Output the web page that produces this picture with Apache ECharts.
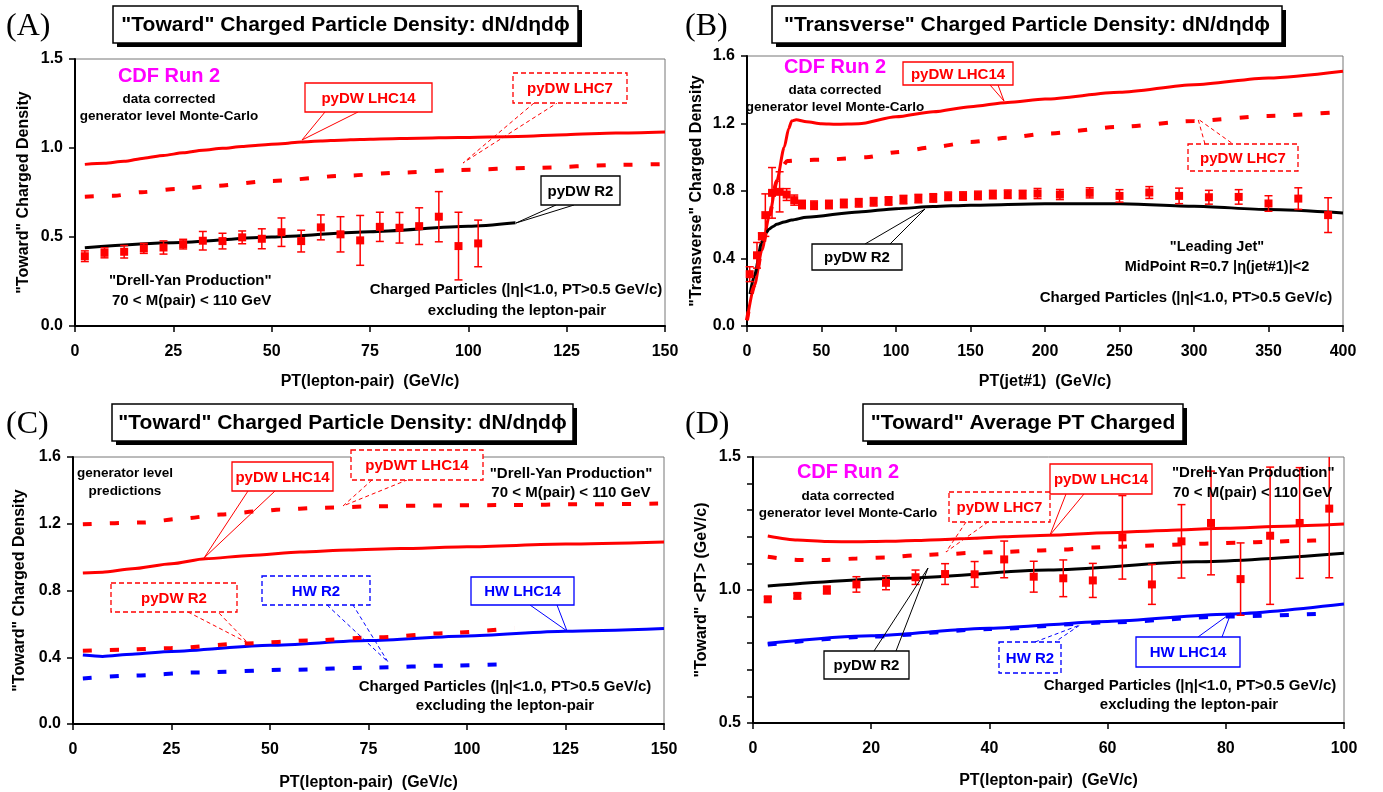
<!DOCTYPE html>
<html>
<head>
<meta charset="utf-8">
<script src="https://cdn.jsdelivr.net/npm/echarts/dist/echarts.min.js"></script>
<style>html,body{margin:0;background:#fff}#chart{width:1383px;height:792px}</style>
</head>
<body>
<div id="chart"></div>
<script>
// ---- (A) "Toward" density, Drell-Yan ----
const ptA = [2.5, 7.5, 12.5, 17.5, 22.5, 27.5, 32.5, 37.5, 42.5, 47.5, 52.5, 57.5, 62.5, 67.5, 72.5, 77.5, 82.5, 87.5, 92.5, 97.5, 102.5]
const densA = [0.392, 0.411, 0.417, 0.436, 0.441, 0.46, 0.479, 0.477, 0.498, 0.49, 0.527, 0.477, 0.554, 0.515, 0.481, 0.557, 0.552, 0.561, 0.614, 0.449, 0.464]
const errA = [0.03, 0.028, 0.035, 0.028, 0.037, 0.027, 0.052, 0.044, 0.036, 0.056, 0.08, 0.061, 0.07, 0.099, 0.14, 0.082, 0.086, 0.103, 0.141, 0.19, 0.131]
const aLhc14X = [2.5, 7.5, 12.5, 17.5, 22.5, 27.5, 32.5, 37.5, 42.5, 47.5, 52.5, 57.5, 62.5, 67.5, 72.5, 77.5, 87.5, 97.5, 112.5, 125, 137.5, 150]
const aLhc14Y = [0.908, 0.914, 0.925, 0.943, 0.958, 0.973, 0.988, 0.998, 1.008, 1.017, 1.024, 1.034, 1.039, 1.044, 1.048, 1.051, 1.055, 1.059, 1.065, 1.075, 1.084, 1.09]
const aLhc7X = [2.5, 10, 17, 26, 35, 50, 69, 83, 97.5, 117, 138, 150]
const aLhc7Y = [0.726, 0.732, 0.752, 0.77, 0.787, 0.815, 0.845, 0.862, 0.877, 0.889, 0.905, 0.91]
const aR2X = [2.5, 25, 50, 75, 100, 112]
const aR2Y = [0.44, 0.468, 0.5, 0.53, 0.56, 0.58]

// ---- (B) "Transverse" density, leading jet ----
const ptB = [1.8, 6.7, 10, 12.3, 16.8, 21.9, 26.6, 31.7, 36.9, 45, 55, 65, 75, 85, 95, 105, 115, 125, 135, 145, 155, 165, 175, 185, 195, 210, 230, 250, 270, 290, 310, 330, 350, 370, 390]
const densB = [0.307, 0.419, 0.532, 0.657, 0.789, 0.795, 0.779, 0.746, 0.72, 0.716, 0.72, 0.726, 0.73, 0.736, 0.741, 0.749, 0.755, 0.759, 0.769, 0.77, 0.774, 0.779, 0.781, 0.779, 0.785, 0.779, 0.789, 0.771, 0.791, 0.771, 0.763, 0.765, 0.726, 0.755, 0.657]
const errB = [0.044, 0.076, 0.02, 0.126, 0.15, 0.119, 0.035, 0.03, 0.025, 0.025, 0.025, 0.025, 0.025, 0.025, 0.025, 0.025, 0.025, 0.025, 0.025, 0.025, 0.025, 0.025, 0.025, 0.025, 0.03, 0.03, 0.03, 0.037, 0.035, 0.046, 0.041, 0.043, 0.046, 0.064, 0.103]
const bLhc14X = [0, 5, 10, 15, 20, 25, 28, 30, 33, 40, 50, 60, 75, 100, 125, 150, 175, 200, 250, 300, 350, 400]
const bLhc14Y = [0.034, 0.24, 0.45, 0.655, 0.86, 1.06, 1.17, 1.215, 1.222, 1.21, 1.198, 1.195, 1.198, 1.24, 1.27, 1.3, 1.325, 1.345, 1.385, 1.43, 1.47, 1.51]
const bLhc7X = [0, 5, 10, 15, 20, 24, 27, 35, 55, 80, 100, 125, 150, 175, 200, 250, 300, 350, 400]
const bLhc7Y = [0.034, 0.24, 0.45, 0.655, 0.86, 0.95, 0.978, 0.983, 0.987, 1.0, 1.03, 1.06, 1.09, 1.115, 1.14, 1.18, 1.215, 1.245, 1.27]
const bR2X = [2, 5, 10, 12.5, 15, 17.5, 20, 25, 30, 40, 75, 100, 125, 150, 200, 250, 300, 350, 400]
const bR2Y = [0.19, 0.3, 0.5, 0.55, 0.575, 0.59, 0.603, 0.617, 0.628, 0.645, 0.676, 0.695, 0.708, 0.716, 0.725, 0.725, 0.71, 0.69, 0.67]

// ---- (C) generator level predictions ----
const cDwtX = [2.5, 17.5, 27.5, 37.5, 47.5, 52.5, 62.5, 77.5, 92.5, 110, 130, 150]
const cDwtY = [1.197, 1.207, 1.23, 1.255, 1.275, 1.285, 1.295, 1.305, 1.31, 1.312, 1.317, 1.321]
const cLhc14X = [2.5, 7.5, 15, 25, 33.6, 45, 57.7, 70, 83, 100, 125, 150]
const cLhc14Y = [0.905, 0.91, 0.93, 0.96, 0.99, 1.01, 1.03, 1.042, 1.051, 1.062, 1.078, 1.09]
const cR2X = [2.5, 12, 25, 44, 60, 77, 95, 112]
const cR2Y = [0.439, 0.445, 0.455, 0.483, 0.5, 0.519, 0.545, 0.575]
const cHwLhc14X = [2.5, 7.5, 15, 25, 50, 75, 100, 125, 150]
const cHwLhc14Y = [0.413, 0.405, 0.418, 0.435, 0.472, 0.5, 0.528, 0.556, 0.572]
const cHwR2X = [2.5, 15, 32, 55, 77, 95, 112]
const cHwR2Y = [0.273, 0.29, 0.309, 0.325, 0.339, 0.35, 0.36]

// ---- (D) "Toward" average PT ----
const ptD = [2.5, 7.5, 12.5, 17.5, 22.5, 27.5, 32.5, 37.5, 42.5, 47.5, 52.5, 57.5, 62.5, 67.5, 72.5, 77.5, 82.5, 87.5, 92.5, 97.5]
const avgPtD = [0.965, 0.978, 1.0, 1.021, 1.027, 1.048, 1.06, 1.059, 1.115, 1.05, 1.044, 1.036, 1.198, 1.021, 1.183, 1.252, 1.041, 1.204, 1.252, 1.306]
const errD = [0.01, 0.01, 0.015, 0.029, 0.026, 0.027, 0.039, 0.048, 0.069, 0.058, 0.069, 0.064, 0.157, 0.075, 0.138, 0.195, 0.136, 0.258, 0.208, 0.26]
const dLhc14X = [2.5, 7.5, 12.5, 17.5, 22.5, 27.5, 32.5, 37.5, 42.5, 50, 60, 70, 80, 90, 100]
const dLhc14Y = [1.203, 1.188, 1.182, 1.181, 1.183, 1.186, 1.19, 1.195, 1.2, 1.206, 1.215, 1.224, 1.232, 1.24, 1.248]
const dLhc7Y = [1.125, 1.113, 1.113, 1.118, 1.122, 1.13, 1.135, 1.14, 1.143, 1.148, 1.152, 1.16, 1.163, 1.167, 1.171, 1.175, 1.178, 1.181, 1.185, 1.188]
const dR2X = [2.5, 25, 50, 75, 100]
const dR2Y = [1.015, 1.044, 1.075, 1.106, 1.138]
const dHwLhc14X = [2.5, 20, 40, 60, 80, 100]
const dHwLhc14Y = [0.8, 0.828, 0.856, 0.882, 0.909, 0.947]
const dHwR2X = [2.5, 20, 40, 60, 80, 97.5]
const dHwR2Y = [0.795, 0.825, 0.853, 0.878, 0.9, 0.912]

const RED = '#ff0000', BLUE = '#0000ff', MAG = '#ff00ff'
const FONT = '"Liberation Sans", Arial, sans-serif'
const zip = (xs, ys) => xs.map((x, i) => [x, ys[i]])

function curve(g, xs, ys, color, dashed) {
  return {
    type: 'line', xAxisIndex: g, yAxisIndex: g, data: zip(xs, ys),
    showSymbol: false, smooth: 0.25, smoothMonotone: 'x', silent: true,
    lineStyle: { color: color, width: dashed ? 4 : 3, type: dashed ? [9, 18] : 'solid', cap: 'butt' },
    z: dashed ? 4 : 3
  }
}

// data points with error bars (red squares)
function points(g, xs, ys, es, ymax) {
  return {
    type: 'custom', xAxisIndex: g, yAxisIndex: g, z: 6, silent: true,
    data: xs.map((x, i) => [x, ys[i], es[i]]),
    renderItem(params, api) {
      const x = api.value(0), y = api.value(1), e = api.value(2)
      const c = api.coord([x, y])
      const top = Math.min(y + e, ymax)
      const hi = api.coord([x, top])[1], lo = api.coord([x, y - e])[1]
      const st = { stroke: RED, lineWidth: 1.5 }
      const kids = [
        { type: 'line', shape: { x1: c[0], y1: hi, x2: c[0], y2: lo }, style: st },
        { type: 'line', shape: { x1: c[0] - 4, y1: lo, x2: c[0] + 4, y2: lo }, style: st },
        { type: 'rect', shape: { x: c[0] - 4, y: c[1] - 4, width: 8, height: 8 }, style: { fill: RED } }
      ]
      if (top === y + e) kids.push({ type: 'line', shape: { x1: c[0] - 4, y1: hi, x2: c[0] + 4, y2: hi }, style: st })
      return { type: 'group', children: kids }
    }
  }
}

const labelStyle = { color: '#000', fontWeight: 'bold', fontSize: 16, fontFamily: FONT }
const nameStyle = { color: '#000', fontWeight: 'bold', fontSize: 16, fontFamily: FONT }

function xAx(g, max, interval, name, gap) {
  return {
    gridIndex: g, type: 'value', min: 0, max: max, interval: interval,
    name: name, nameLocation: 'middle', nameGap: gap, nameTextStyle: nameStyle,
    axisLine: { onZero: false, lineStyle: { color: '#000', width: 2 } },
    axisTick: { length: 6, lineStyle: { color: '#000', width: 1.5 } },
    axisLabel: Object.assign({ margin: 18 }, labelStyle),
    splitLine: { show: false }
  }
}
function yAx(g, min, max, interval, name, gap, fmt) {
  return {
    gridIndex: g, type: 'value', min: min, max: max, interval: interval,
    name: name, nameLocation: 'middle', nameGap: gap, nameTextStyle: nameStyle,
    axisLine: { onZero: false, lineStyle: { color: '#000', width: 2 } },
    axisTick: { length: 6, lineStyle: { color: '#000', width: 1.5 } },
    axisLabel: Object.assign({ margin: 12, formatter: fmt || (v => v.toFixed(1)) }, labelStyle),
    splitLine: { show: false }
  }
}

// ---- decorations ----
function txt(x, y, s, font, fill, align) {
  return {
    type: 'text', x: x, y: y, z: 20,
    style: { text: s, font: font, fill: fill || '#000', textAlign: align || 'center', align: align || 'center', textVerticalAlign: 'middle', verticalAlign: 'middle' }
  }
}
function titleBox(x, y, w, h, s) {
  return [
    { type: 'rect', z: 18, shape: { x: x + 4, y: y + 4, width: w, height: h }, style: { fill: '#000' } },
    { type: 'rect', z: 19, shape: { x: x, y: y, width: w, height: h }, style: { fill: '#fff', stroke: '#000', lineWidth: 1.5 } },
    txt(x + w / 2, y + h / 2 + 1, s, 'bold 21px ' + FONT)
  ]
}
function callout(x, y, w, h, s, color, dashed, b1, b2, tip) {
  return [
    { type: 'polyline', z: 17, shape: { points: [b1, tip, b2] }, style: { stroke: color, fill: null, lineWidth: 1, lineDash: dashed ? [4, 3] : null } },
    { type: 'rect', z: 18, shape: { x: x, y: y, width: w, height: h }, style: { fill: '#fff', stroke: color, lineWidth: 1.3, lineDash: dashed ? [5, 3] : null } },
    txt(x + w / 2, y + h / 2 + 1, s, 'bold 15px ' + FONT, color)
  ]
}
const GEN = 'bold 13.5px ' + FONT, B15 = 'bold 15px ' + FONT, B145 = 'bold 14.5px ' + FONT, CDF = 'bold 20px ' + FONT
const LETTER = '32px "Liberation Serif", "Times New Roman", serif'
const charged = 'Charged Particles (|η|<1.0, PT>0.5 GeV/c)'

const graphics = [].concat(
  txt(6, 27, '(A)', LETTER, '#000', 'left'),
  txt(685, 27, '(B)', LETTER, '#000', 'left'),
  txt(6, 425, '(C)', LETTER, '#000', 'left'),
  txt(685, 425, '(D)', LETTER, '#000', 'left'),
  titleBox(113, 6, 465, 37, '"Toward" Charged Particle Density: dN/dηdϕ'),
  titleBox(772, 6, 510, 37, '"Transverse" Charged Particle Density: dN/dηdϕ'),
  titleBox(112, 404, 461, 37, '"Toward" Charged Particle Density: dN/dηdϕ'),
  titleBox(863, 404, 320, 37, '"Toward" Average PT Charged'),
  // A
  txt(169, 76, 'CDF Run 2', CDF, MAG),
  txt(169, 99, 'data corrected', GEN),
  txt(169, 116, 'generator level Monte-Carlo', GEN),
  txt(109, 281, '"Drell-Yan Production"', B15, '#000', 'left'),
  txt(112, 301, '70 < M(pair) < 110 GeV', B15, '#000', 'left'),
  txt(516, 290, charged, B15),
  txt(517, 311, 'excluding the lepton-pair', B15),
  callout(305, 83, 127, 29, 'pyDW LHC14', RED, false, [325, 112], [358, 112], [302, 140]),
  callout(513, 73, 114, 30, 'pyDW LHC7', RED, true, [534, 103], [557, 103], [463, 163]),
  callout(541, 176, 79, 29, 'pyDW R2', '#000', false, [556, 205], [574, 205], [516, 223]),
  // B
  txt(835, 67, 'CDF Run 2', CDF, MAG),
  txt(835, 90, 'data corrected', GEN),
  txt(835, 107, 'generator level Monte-Carlo', GEN),
  txt(1217, 247, '"Leading Jet"', B145),
  txt(1217, 267, 'MidPoint R=0.7 |η(jet#1)|<2', B145),
  txt(1186, 298, charged, B15),
  callout(903, 62, 110, 23, 'pyDW LHC14', RED, false, [990, 85], [998, 85], [1004, 101]),
  callout(1188, 144, 110, 27, 'pyDW LHC7', RED, true, [1205, 144], [1233, 144], [1198, 119]),
  callout(812, 244, 90, 26, 'pyDW R2', '#000', false, [865, 244], [890, 244], [925, 209]),
  // C
  txt(125, 473, 'generator level', GEN),
  txt(125, 491, 'predictions', GEN),
  txt(571, 474, '"Drell-Yan Production"', B15),
  txt(571, 493, '70 < M(pair) < 110 GeV', B15),
  txt(505, 687, charged, B15),
  txt(505, 706, 'excluding the lepton-pair', B15),
  callout(232, 462, 101, 29, 'pyDW LHC14', RED, false, [248, 491], [275, 491], [204, 558]),
  callout(351, 450, 132, 30, 'pyDWT LHC14', RED, true, [372, 480], [407, 480], [343, 506]),
  callout(111, 583, 126, 29, 'pyDW R2', RED, true, [188, 612], [218, 612], [248, 643]),
  callout(262, 576, 108, 29, 'HW R2', BLUE, true, [327, 605], [353, 605], [388, 662]),
  callout(471, 577, 103, 28, 'HW LHC14', BLUE, false, [530, 605], [557, 605], [567, 631]),
  // D
  txt(848, 472, 'CDF Run 2', CDF, MAG),
  txt(848, 496, 'data corrected', GEN),
  txt(848, 513, 'generator level Monte-Carlo', GEN),
  txt(1172, 473, '"Drell-Yan Production"', B15, '#000', 'left'),
  txt(1173, 493, '70 < M(pair) < 110 GeV', B15, '#000', 'left'),
  txt(1190, 686, charged, B15),
  txt(1189, 705, 'excluding the lepton-pair', B15),
  callout(949, 492, 101, 30, 'pyDW LHC7', RED, true, [966, 522], [988, 522], [946, 552]),
  callout(1050, 464, 102, 30, 'pyDW LHC14', RED, false, [1066, 494], [1084, 494], [1050, 535]),
  callout(824, 651, 85, 28, 'pyDW R2', '#000', false, [874, 651], [896, 651], [928, 568]),
  callout(999, 642, 62, 31, 'HW R2', BLUE, true, [1035, 642], [1055, 642], [1080, 625]),
  callout(1136, 637, 104, 30, 'HW LHC14', BLUE, false, [1198, 637], [1222, 637], [1231, 613])
)

const halfStep = v => Math.abs(v * 2 - Math.round(v * 2)) < 1e-6 ? v.toFixed(1) : ''

const chart = echarts.init(document.getElementById('chart'))
chart.setOption({
  animation: false,
  backgroundColor: '#fff',
  grid: [
    { left: 75, right: 718, top: 59, bottom: 466, show: true, borderColor: '#777', borderWidth: 1 },
    { left: 747, right: 40, top: 56, bottom: 466, show: true, borderColor: '#777', borderWidth: 1 },
    { left: 73, right: 719, top: 457, bottom: 68, show: true, borderColor: '#777', borderWidth: 1 },
    { left: 753, right: 39, top: 457, bottom: 69, show: true, borderColor: '#777', borderWidth: 1 }
  ],
  xAxis: [
    xAx(0, 150, 25, 'PT(lepton-pair)  (GeV/c)', 48),
    xAx(1, 400, 50, 'PT(jet#1)  (GeV/c)', 48),
    xAx(2, 150, 25, 'PT(lepton-pair)  (GeV/c)', 51),
    xAx(3, 100, 20, 'PT(lepton-pair)  (GeV/c)', 50)
  ],
  yAxis: [
    yAx(0, 0, 1.5, 0.5, '"Toward" Charged Density', 43),
    yAx(1, 0, 1.6, 0.4, '"Transverse" Charged Density', 42),
    yAx(2, 0, 1.6, 0.4, '"Toward" Charged Density', 45),
    yAx(3, 0.5, 1.5, 0.1, '"Toward" <PT> (GeV/c)', 43, halfStep)
  ],
  series: [
    curve(0, aLhc14X, aLhc14Y, RED, false),
    curve(0, aLhc7X, aLhc7Y, RED, true),
    curve(0, aR2X, aR2Y, '#000', false),
    points(0, ptA, densA, errA, 1.5),

    curve(1, bLhc14X, bLhc14Y, RED, false),
    curve(1, bLhc7X, bLhc7Y, RED, true),
    curve(1, bR2X, bR2Y, '#000', false),
    points(1, ptB, densB, errB, 1.6),

    curve(2, cDwtX, cDwtY, RED, true),
    curve(2, cLhc14X, cLhc14Y, RED, false),
    curve(2, cHwLhc14X, cHwLhc14Y, BLUE, false),
    curve(2, cR2X, cR2Y, RED, true),
    curve(2, cHwR2X, cHwR2Y, BLUE, true),

    curve(3, dLhc14X, dLhc14Y, RED, false),
    curve(3, ptD, dLhc7Y, RED, true),
    curve(3, dR2X, dR2Y, '#000', false),
    curve(3, dHwLhc14X, dHwLhc14Y, BLUE, false),
    curve(3, dHwR2X, dHwR2Y, BLUE, true),
    points(3, ptD, avgPtD, errD, 1.5)
  ],
  graphic: { elements: graphics }
})
</script>
</body>
</html>
